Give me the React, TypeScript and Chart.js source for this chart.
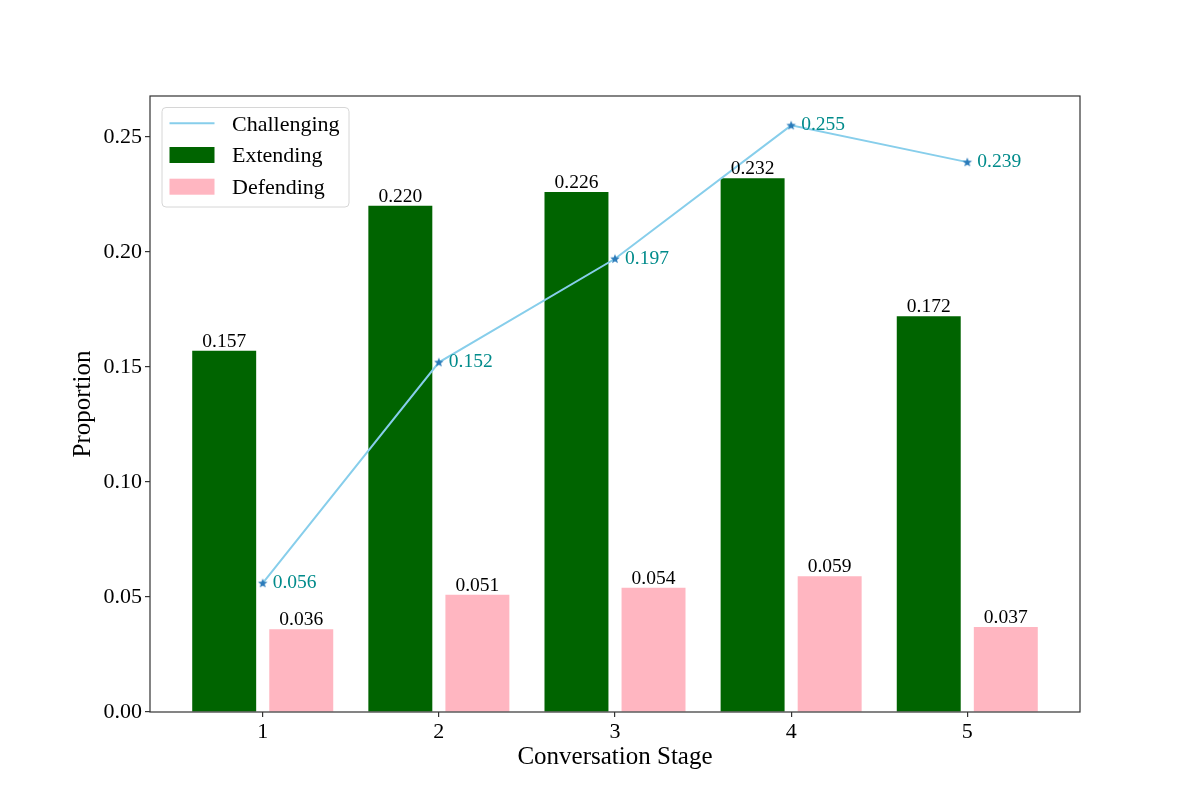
import React, { useEffect, useRef } from 'react';
import Chart from 'chart.js/auto';

// --- data ---
const stages = [1, 2, 3, 4, 5];
const challenging = [0.056, 0.152, 0.197, 0.255, 0.239];
const extending = [0.157, 0.220, 0.226, 0.232, 0.172];
const defending = [0.036, 0.051, 0.054, 0.059, 0.037];
const yTicks = [0, 0.05, 0.1, 0.15, 0.2, 0.25];

const SERIF = '"Liberation Serif", "Times New Roman", serif';

// small 5-point star used as the line marker
function makeStar(): HTMLCanvasElement {
  const c = document.createElement('canvas');
  c.width = 12;
  c.height = 12;
  const ctx = c.getContext('2d')!;
  ctx.beginPath();
  for (let i = 0; i < 10; i++) {
    const r = i % 2 === 0 ? 5 : 2.1;
    const a = -Math.PI / 2 + (i * Math.PI) / 5;
    const x = 6 + r * Math.cos(a);
    const y = 6.3 + r * Math.sin(a);
    if (i === 0) ctx.moveTo(x, y);
    else ctx.lineTo(x, y);
  }
  ctx.closePath();
  ctx.fillStyle = '#2b7bba';
  ctx.fill();
  return c;
}

// box around the plot area (all four spines)
const framePlugin = {
  id: 'frame',
  afterDatasetsDraw(chart: any) {
    const { ctx, chartArea: a } = chart;
    ctx.save();
    ctx.strokeStyle = '#333';
    ctx.lineWidth = 1.2;
    ctx.strokeRect(a.left, a.top, a.right - a.left, a.bottom - a.top);
    ctx.restore();
  },
};

// value labels on bars and next to line points
const valueLabels = {
  id: 'valueLabels',
  afterDatasetsDraw(chart: any) {
    const { ctx } = chart;
    ctx.save();
    ctx.font = `19.5px ${SERIF}`;
    chart.data.datasets.forEach((ds: any, di: number) => {
      const meta = chart.getDatasetMeta(di);
      meta.data.forEach((el: any, i: number) => {
        const v = ds.data[i].y;
        if (ds.type === 'line') {
          ctx.fillStyle = '#008B8B';
          ctx.textAlign = 'left';
          ctx.textBaseline = 'middle';
          ctx.fillText(v.toFixed(3), el.x + 10, el.y);
        } else {
          ctx.fillStyle = '#000';
          ctx.textAlign = 'center';
          ctx.textBaseline = 'alphabetic';
          ctx.fillText(v.toFixed(3), el.x, el.y - 4);
        }
      });
    });
    ctx.restore();
  },
};

// matplotlib-like legend box inside the upper-left corner
const boxLegend = {
  id: 'boxLegend',
  afterDraw(chart: any) {
    const { ctx, chartArea: a } = chart;
    const x0 = a.left + 12;
    const y0 = a.top + 11.5;
    const w = 187;
    const h = 99.5;
    const r = 4;
    ctx.save();
    ctx.beginPath();
    ctx.moveTo(x0 + r, y0);
    ctx.arcTo(x0 + w, y0, x0 + w, y0 + h, r);
    ctx.arcTo(x0 + w, y0 + h, x0, y0 + h, r);
    ctx.arcTo(x0, y0 + h, x0, y0, r);
    ctx.arcTo(x0, y0, x0 + w, y0, r);
    ctx.closePath();
    ctx.fillStyle = 'rgba(255,255,255,0.8)';
    ctx.fill();
    ctx.strokeStyle = '#d6d6d6';
    ctx.lineWidth = 1;
    ctx.stroke();

    ctx.font = `22px ${SERIF}`;
    ctx.textAlign = 'left';
    ctx.textBaseline = 'middle';
    chart.data.datasets.forEach((ds: any, i: number) => {
      const cy = y0 + 15.8 + i * 31.7;
      if (ds.type === 'line') {
        ctx.strokeStyle = ds.borderColor;
        ctx.lineWidth = 2;
        ctx.beginPath();
        ctx.moveTo(x0 + 7.5, cy);
        ctx.lineTo(x0 + 52.5, cy);
        ctx.stroke();
      } else {
        ctx.fillStyle = ds.backgroundColor;
        ctx.fillRect(x0 + 7.5, cy - 8, 45, 16);
      }
      ctx.fillStyle = '#000';
      ctx.fillText(ds.label, x0 + 70, cy + 1.5);
    });
    ctx.restore();
  },
};

export default function App() {
  const canvasRef = useRef<HTMLCanvasElement | null>(null);
  const chartRef = useRef<Chart | null>(null);

  useEffect(() => {
    document.body.style.margin = '0';
    if (!canvasRef.current) return;
    if (chartRef.current) chartRef.current.destroy();

    const star = makeStar();
    const tickFont = { family: SERIF, size: 22 };
    const titleFont = { family: SERIF, size: 25 };
    const tickGrid = {
      display: true,
      drawOnChartArea: false,
      drawTicks: true,
      tickLength: 5,
      color: '#333',
      lineWidth: 1.2,
      offset: false,
    };

    chartRef.current = new Chart(canvasRef.current, {
      type: 'bar',
      data: {
        datasets: [
          {
            type: 'line',
            label: 'Challenging',
            data: stages.map((s, i) => ({ x: s, y: challenging[i] })),
            borderColor: '#87CEEB',
            backgroundColor: '#87CEEB',
            borderWidth: 2,
            pointStyle: star,
            pointRadius: 5,
            tension: 0,
          },
          {
            type: 'bar',
            label: 'Extending',
            data: stages.map((s, i) => ({ x: s, y: extending[i] })),
            backgroundColor: '#006400',
            categoryPercentage: 0.875,
            barPercentage: 0.83,
          },
          {
            type: 'bar',
            label: 'Defending',
            data: stages.map((s, i) => ({ x: s, y: defending[i] })),
            backgroundColor: '#FFB6C1',
            categoryPercentage: 0.875,
            barPercentage: 0.83,
          },
        ],
      } as any,
      options: {
        responsive: false,
        animation: false,
        layout: { padding: { top: 96, right: 120, left: 0, bottom: 0 } },
        plugins: {
          legend: { display: false },
          tooltip: { enabled: false },
        },
        scales: {
          x: {
            type: 'linear',
            min: 0.36,
            max: 5.64,
            offset: false,
            afterBuildTicks: (s: any) => {
              s.ticks = stages.map((v) => ({ value: v }));
            },
            afterFit: (s: any) => {
              s.height = 88;
            },
            ticks: {
              font: tickFont,
              color: '#000',
              padding: 2,
              maxRotation: 0,
              callback: (v: any) => String(v),
            },
            grid: tickGrid,
            border: { display: false },
            title: {
              display: true,
              text: 'Conversation Stage',
              font: titleFont,
              color: '#000',
              padding: { top: 0, bottom: 28 },
            },
          },
          y: {
            type: 'linear',
            min: 0,
            max: 0.26775,
            afterBuildTicks: (s: any) => {
              s.ticks = yTicks.map((v) => ({ value: v }));
            },
            afterFit: (s: any) => {
              s.width = 150;
            },
            ticks: {
              font: tickFont,
              color: '#000',
              padding: 3,
              callback: (v: any) => Number(v).toFixed(2),
            },
            grid: tickGrid,
            border: { display: false },
            title: {
              display: true,
              text: 'Proportion',
              font: titleFont,
              color: '#000',
              padding: { top: 68, bottom: 0 },
            },
          },
        },
      } as any,
      plugins: [framePlugin, valueLabels, boxLegend],
    });

    return () => {
      if (chartRef.current) {
        chartRef.current.destroy();
        chartRef.current = null;
      }
    };
  }, []);

  return (
    <div style={{ width: 1200, height: 800, background: '#fff' }}>
      <canvas ref={canvasRef} width={1200} height={800} style={{ display: 'block' }} />
    </div>
  );
}
